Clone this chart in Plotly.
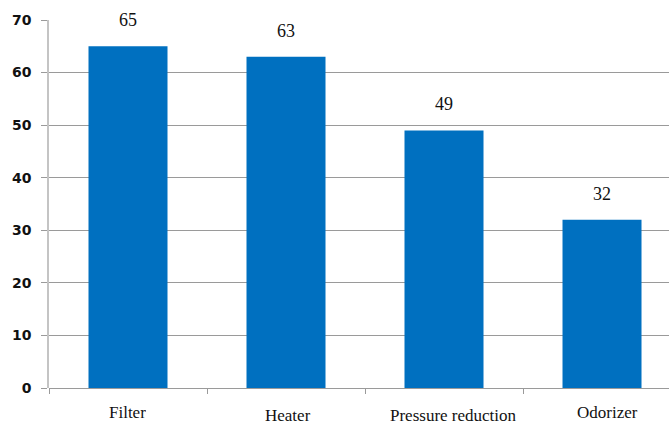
import plotly.graph_objects as go

# Equipment categories and their counts
categories = ["Filter", "Heater", "Pressure reduction", "Odorizer"]
values = [65, 63, 49, 32]
y_ticks = [0, 10, 20, 30, 40, 50, 60, 70]

# Per-label pixel nudges for the staggered category labels (dx, dy)
label_nudges = [(-1, 0), (2, -3), (9, -3), (5, 0)]

BAR_COLOR = "#0070C0"
GRID_COLOR = "#9A9A9A"
AXIS_COLOR = "#C4C4C4"
SERIF = "'Liberation Serif', 'Times New Roman', Times, serif"
SANS_BOLD = "Verdana, 'DejaVu Sans', sans-serif"

fig = go.Figure()
fig.add_trace(go.Bar(
    x=categories,
    y=values,
    width=0.5,
    marker=dict(color=BAR_COLOR, line=dict(width=0)),
    hoverinfo="skip",
))

# Value labels above each bar, on a white box so gridlines don't cross them
for cat, val in zip(categories, values):
    fig.add_annotation(
        x=cat, y=val, xref="x", yref="y",
        text=str(val), showarrow=False,
        yanchor="bottom", yshift=13,
        bgcolor="white", borderpad=2,
        font=dict(family=SERIF, size=18, color="#111111"),
    )

# Category labels under the axis
for cat, (dx, dy) in zip(categories, label_nudges):
    fig.add_annotation(
        x=cat, y=0, xref="x", yref="paper",
        text=cat, showarrow=False,
        yanchor="top", xshift=dx, yshift=-15 + dy,
        height=17, valign="middle", borderpad=0,
        font=dict(family=SERIF, size=17, color="#111111"),
    )

fig.update_layout(
    width=669, height=425,
    margin=dict(l=49, r=0, t=20, b=37),
    paper_bgcolor="white", plot_bgcolor="white",
    showlegend=False,
    xaxis=dict(
        range=[-0.5, 3.424],
        showticklabels=False,
        ticks="outside", tickson="boundaries",
        ticklen=5, tickcolor=GRID_COLOR, tickwidth=1,
        showline=False, showgrid=False, zeroline=False,
        fixedrange=True,
    ),
    yaxis=dict(
        range=[0, 70],
        tickvals=y_ticks,
        ticks="outside", ticklen=6, tickcolor=GRID_COLOR, tickwidth=1,
        showgrid=True, gridcolor=GRID_COLOR, gridwidth=1,
        showline=True, linecolor=AXIS_COLOR, linewidth=1.5,
        zeroline=True, zerolinecolor=GRID_COLOR, zerolinewidth=1,
        ticklabelstandoff=7,
        tickfont=dict(family=SANS_BOLD, size=14, color="#111111", weight="bold"),
        fixedrange=True,
    ),
)

fig.write_html("out.html")
